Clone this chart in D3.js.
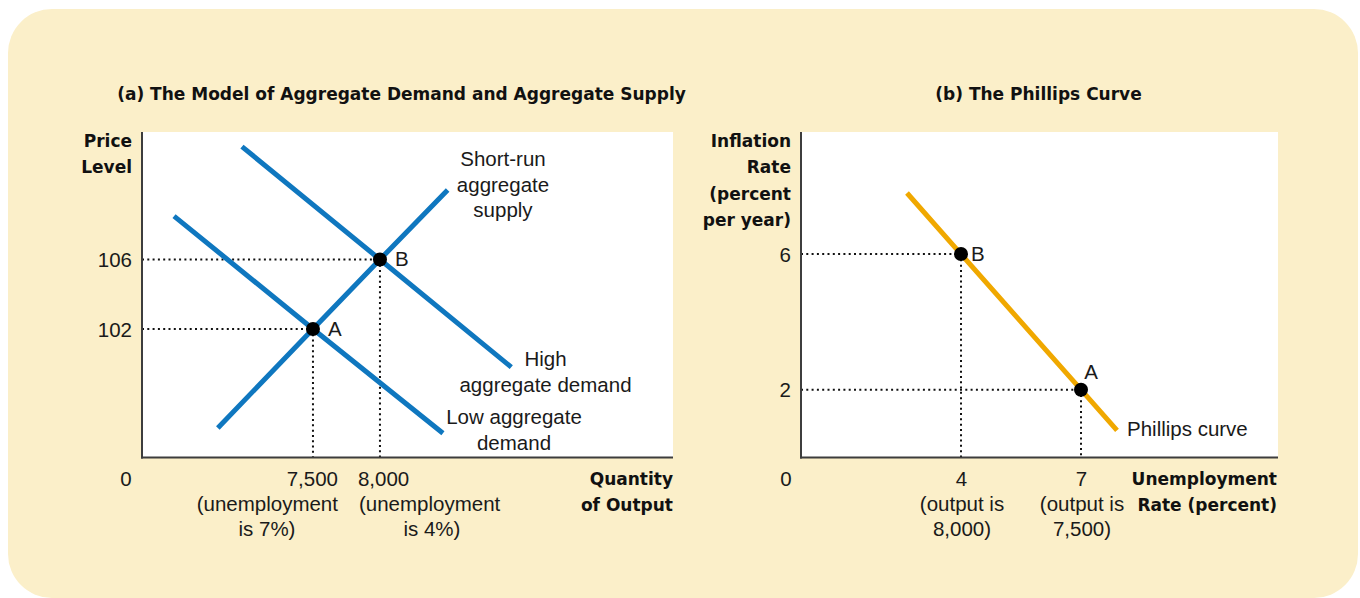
<!DOCTYPE html>
<html>
<head>
<meta charset="utf-8">
<script src="https://cdn.jsdelivr.net/npm/d3@7"></script>
<style>
  html, body { margin: 0; padding: 0; background: #ffffff; }
  svg { display: block; }
  .reg { font-family: "Liberation Sans", Arial, sans-serif; font-size: 20.5px; fill: #1a1a1a; }
  .bold { font-family: "DejaVu Sans", sans-serif; font-weight: bold; font-size: 17px; fill: #111; }
</style>
</head>
<body>
<svg id="chart" width="1360" height="598"></svg>
<script>
// ---- Panel (a): aggregate demand / aggregate supply ----
const adasCurves = [
  { name: "sras",   points: [[6790, 96.3], [7500, 102], [8000, 106], [8505, 110]] },
  { name: "highAD", points: [[6970, 112.5], [8000, 106], [8980, 99.8]] },
  { name: "lowAD",  points: [[6463, 108.5], [7500, 102], [8470, 96]] }
];
const adasPoints = [
  { label: "A", q: 7500, p: 102 },
  { label: "B", q: 8000, p: 106 }
];
const adasPriceTicks = [102, 106];
const adasQtyTicks = [7500, 8000];
const adasQtyTickLabels = ["7,500", "8,000"];
const adasQtyNotes = [["(unemployment", "is 7%)"], ["(unemployment", "is 4%)"]];
const adasCurveLabels = [
  ["Short-run", "aggregate", "supply"],
  ["High", "aggregate demand"],
  ["Low aggregate", "demand"]
];

// ---- Panel (b): Phillips curve ----
const phillipsCurve = [[2.65, 7.8], [4, 6], [7, 2], [7.9, 0.8]];
const phillipsPoints = [
  { label: "B", u: 4, pi: 6 },
  { label: "A", u: 7, pi: 2 }
];
const inflationTicks = [2, 6];
const unempTicks = [4, 7];
const unempNotes = [["(output is", "8,000)"], ["(output is", "7,500)"]];

const BLUE = "#0f77bf";
const ORANGE = "#f0a800";
const PANEL = "#fbefc9";
const AXIS = "#3d3d3d";

const svg = d3.select("#chart");

// background panel
svg.append("rect")
  .attr("x", 8).attr("y", 9).attr("width", 1350).attr("height", 589)
  .attr("rx", 44).attr("ry", 44)
  .attr("fill", PANEL);

// ================= Panel (a) =================
const ax = { left: 142, right: 673, top: 132, bottom: 457.5 };
const xA = d3.scaleLinear().domain([6224, 10187]).range([ax.left, ax.right]);
const yA = d3.scaleLinear().domain([94.6, 113.34]).range([ax.bottom, ax.top]);

const gA = svg.append("g");
gA.append("rect")
  .attr("x", ax.left).attr("y", ax.top)
  .attr("width", ax.right - ax.left).attr("height", ax.bottom - ax.top)
  .attr("fill", "#fff");

gA.append("text").attr("class", "bold")
  .attr("x", 401.5).attr("y", 100).attr("text-anchor", "middle")
  .text("(a) The Model of Aggregate Demand and Aggregate Supply");

// dotted guides
adasPoints.forEach(d => {
  gA.append("line")
    .attr("x1", ax.left).attr("x2", xA(d.q))
    .attr("y1", yA(d.p)).attr("y2", yA(d.p))
    .attr("stroke", "#111").attr("stroke-width", 2).attr("stroke-dasharray", "2,3.3");
  gA.append("line")
    .attr("x1", xA(d.q)).attr("x2", xA(d.q))
    .attr("y1", yA(d.p)).attr("y2", ax.bottom)
    .attr("stroke", "#111").attr("stroke-width", 2).attr("stroke-dasharray", "2,3.3");
});

const lineA = d3.line().x(d => xA(d[0])).y(d => yA(d[1]));
gA.selectAll("path.curve").data(adasCurves).enter().append("path")
  .attr("class", "curve")
  .attr("d", d => lineA(d.points))
  .attr("fill", "none").attr("stroke", BLUE).attr("stroke-width", 5);

gA.selectAll("circle.pt").data(adasPoints).enter().append("circle")
  .attr("class", "pt")
  .attr("cx", d => xA(d.q)).attr("cy", d => yA(d.p)).attr("r", 7)
  .attr("fill", "#000");

gA.selectAll("text.ptlab").data(adasPoints).enter().append("text")
  .attr("class", "reg ptlab")
  .attr("x", d => xA(d.q) + 15).attr("y", d => yA(d.p) + 7)
  .text(d => d.label);

// axes
const axisA = d3.axisLeft(yA).tickValues(adasPriceTicks).tickSize(0).tickPadding(10);
const gyA = gA.append("g").attr("transform", `translate(${ax.left},0)`).call(axisA);
gyA.select(".domain").remove();
gyA.selectAll("text").attr("class", "reg").attr("font-size", null).attr("font-family", null)
  .attr("fill", null).attr("dy", "0.35em");

gA.append("line").attr("x1", ax.left).attr("x2", ax.left).attr("y1", ax.top).attr("y2", ax.bottom + 1)
  .attr("stroke", AXIS).attr("stroke-width", 2);
gA.append("line").attr("x1", ax.left - 1).attr("x2", ax.right).attr("y1", ax.bottom).attr("y2", ax.bottom)
  .attr("stroke", AXIS).attr("stroke-width", 2);

// x tick labels with notes
adasQtyTicks.forEach((q, i) => {
  const x = xA(q);
  const leftSide = i === 0;
  gA.append("text").attr("class", "reg")
    .attr("x", leftSide ? x + 25 : x - 22).attr("y", 486)
    .attr("text-anchor", leftSide ? "end" : "start")
    .text(adasQtyTickLabels[i]);
  gA.append("text").attr("class", "reg")
    .attr("x", leftSide ? x + 25 : x - 21).attr("y", 511)
    .attr("text-anchor", leftSide ? "end" : "start")
    .text(adasQtyNotes[i][0]);
  gA.append("text").attr("class", "reg")
    .attr("x", leftSide ? x - 46 : x + 52).attr("y", 536)
    .attr("text-anchor", "middle")
    .text(adasQtyNotes[i][1]);
});
gA.append("text").attr("class", "reg").attr("x", 126).attr("y", 486).attr("text-anchor", "middle").text("0");

// axis titles
["Price", "Level"].forEach((t, i) => {
  gA.append("text").attr("class", "bold").attr("x", 132).attr("y", 147 + i * 26)
    .attr("text-anchor", "end").text(t);
});
["Quantity", "of Output"].forEach((t, i) => {
  gA.append("text").attr("class", "bold").attr("x", 673).attr("y", 485 + i * 26)
    .attr("text-anchor", "end").text(t);
});

// curve labels
const curveLabelPos = [
  { x: 503, y: 166 },
  { x: 545.5, y: 366 },
  { x: 514, y: 424 }
];
adasCurveLabels.forEach((lines, i) => {
  lines.forEach((t, j) => {
    gA.append("text").attr("class", "reg")
      .attr("x", curveLabelPos[i].x).attr("y", curveLabelPos[i].y + j * 25.5)
      .attr("text-anchor", "middle").text(t);
  });
});

// ================= Panel (b) =================
const bx = { left: 801, right: 1278, top: 132, bottom: 457.5 };
const xB = d3.scaleLinear().domain([0, 11.925]).range([bx.left, bx.right]);
const yB = d3.scaleLinear().domain([0, 9.6]).range([bx.bottom, bx.top]);

const gB = svg.append("g");
gB.append("rect")
  .attr("x", bx.left).attr("y", bx.top)
  .attr("width", bx.right - bx.left).attr("height", bx.bottom - bx.top)
  .attr("fill", "#fff");

gB.append("text").attr("class", "bold")
  .attr("x", 1038.5).attr("y", 100).attr("text-anchor", "middle")
  .text("(b) The Phillips Curve");

phillipsPoints.forEach(d => {
  gB.append("line")
    .attr("x1", bx.left).attr("x2", xB(d.u))
    .attr("y1", yB(d.pi)).attr("y2", yB(d.pi))
    .attr("stroke", "#111").attr("stroke-width", 2).attr("stroke-dasharray", "2,3.3");
  gB.append("line")
    .attr("x1", xB(d.u)).attr("x2", xB(d.u))
    .attr("y1", yB(d.pi)).attr("y2", bx.bottom)
    .attr("stroke", "#111").attr("stroke-width", 2).attr("stroke-dasharray", "2,3.3");
});

const lineB = d3.line().x(d => xB(d[0])).y(d => yB(d[1]));
gB.append("path").attr("d", lineB(phillipsCurve))
  .attr("fill", "none").attr("stroke", ORANGE).attr("stroke-width", 5);

gB.selectAll("circle.pt").data(phillipsPoints).enter().append("circle")
  .attr("class", "pt")
  .attr("cx", d => xB(d.u)).attr("cy", d => yB(d.pi)).attr("r", 7)
  .attr("fill", "#000");

// point labels: B to the right, A above-right
gB.append("text").attr("class", "reg")
  .attr("x", xB(4) + 10).attr("y", yB(6) + 7).text("B");
gB.append("text").attr("class", "reg")
  .attr("x", xB(7) + 10).attr("y", yB(2) - 11).attr("text-anchor", "middle").text("A");

const axisB = d3.axisLeft(yB).tickValues(inflationTicks).tickSize(0).tickPadding(10);
const gyB = gB.append("g").attr("transform", `translate(${bx.left},0)`).call(axisB);
gyB.select(".domain").remove();
gyB.selectAll("text").attr("class", "reg").attr("font-size", null).attr("font-family", null)
  .attr("fill", null).attr("dy", "0.35em");

const axisBx = d3.axisBottom(xB).tickValues(unempTicks).tickSize(0).tickPadding(0);
const gxB = gB.append("g").attr("transform", `translate(0,${bx.bottom})`).call(axisBx);
gxB.select(".domain").remove();
gxB.selectAll("text").attr("class", "reg").attr("font-size", null).attr("font-family", null)
  .attr("fill", null).attr("dy", null).attr("y", 28.5);

unempTicks.forEach((u, i) => {
  unempNotes[i].forEach((t, j) => {
    gB.append("text").attr("class", "reg")
      .attr("x", xB(u) + 1).attr("y", 511 + j * 25)
      .attr("text-anchor", "middle").text(t);
  });
});

gB.append("line").attr("x1", bx.left).attr("x2", bx.left).attr("y1", bx.top).attr("y2", bx.bottom + 1)
  .attr("stroke", AXIS).attr("stroke-width", 2);
gB.append("line").attr("x1", bx.left - 1).attr("x2", bx.right).attr("y1", bx.bottom).attr("y2", bx.bottom)
  .attr("stroke", AXIS).attr("stroke-width", 2);

gB.append("text").attr("class", "reg").attr("x", 786).attr("y", 486).attr("text-anchor", "middle").text("0");

["Inflation", "Rate", "(percent", "per year)"].forEach((t, i) => {
  gB.append("text").attr("class", "bold").attr("x", 791).attr("y", 147 + i * 26.3)
    .attr("text-anchor", "end").text(t);
});
["Unemployment", "Rate (percent)"].forEach((t, i) => {
  gB.append("text").attr("class", "bold").attr("x", 1277).attr("y", 485 + i * 26)
    .attr("text-anchor", "end").text(t);
});

gB.append("text").attr("class", "reg")
  .attr("x", xB(7.9) + 10).attr("y", yB(0.8) + 6).text("Phillips curve");
</script>
</body>
</html>
